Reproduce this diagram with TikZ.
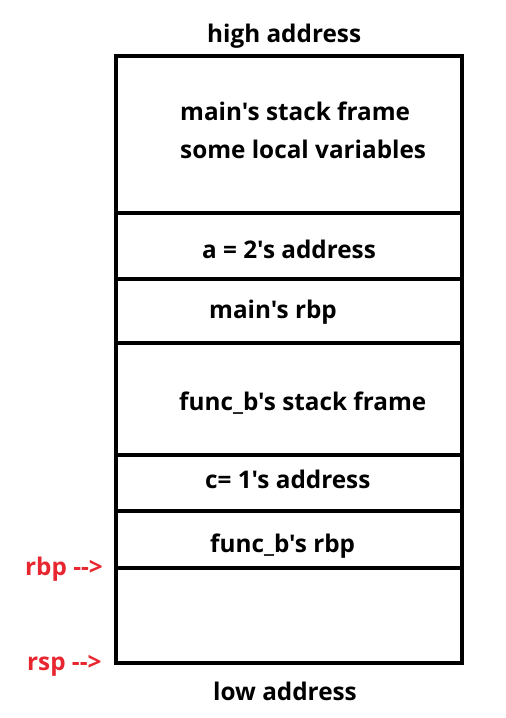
\documentclass[tikz,border=0pt]{standalone}
\usepackage{fontspec}
\setmainfont{Open Sans}[Ligatures=TeXOff]
\usepackage{tikz}
\usetikzlibrary{positioning}

\definecolor{regred}{RGB}{232,38,48}

\begin{document}
\begin{tikzpicture}[
    x=1pt, y=-1pt,
    frame/.style={line width=4.5pt},
    slot/.style={anchor=base west, inner sep=0pt, font=\fontsize{24.3}{27}\selectfont\bfseries},
    regname/.style={anchor=base west, inner sep=0pt, text=regred,
        font=\fontsize{24.3}{27}\selectfont\bfseries}
]

\useasboundingbox (0,0) rectangle (506,718);

% the stack
\draw[frame] (116,56) rectangle (462,663);
\foreach \y in {213,279,343,455,511,568}
    \draw[frame] (116,\y) -- (462,\y);

\node[slot] (high) at (207,42) {high address};
\node[slot] (mainframe) at (180,120) {main's stack frame};
\node[slot] (locals) at (180,158) {some local variables};
\node[slot] (aaddr) at (202,258) {a = 2's address};
\node[slot] (mainrbp) at (209,318) {main's rbp};
\node[slot] (bframe) at (179,410) {func\_b's stack frame};
\node[slot] (caddr) at (205,488) {c= 1's address};
\node[slot] (brbp) at (210,552) {func\_b's rbp};
\node[slot] (low) at (213,700) {low address};

\node[regname] (rbp) at (25,575) {rbp -->};
\node[regname] (rsp) at (27,670) {rsp -->};

\end{tikzpicture}
\end{document}
